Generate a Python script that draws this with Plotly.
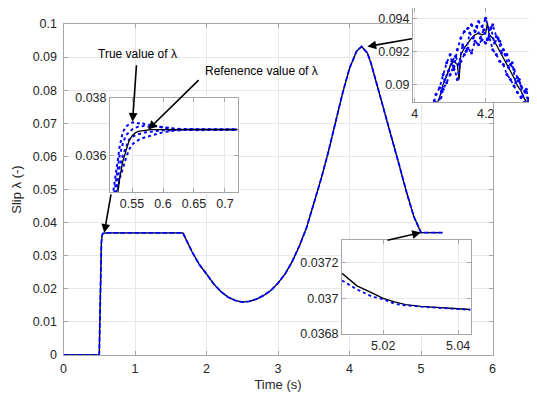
import plotly.graph_objects as go

OFF = 8                      # page body margin
W, H = 537 - OFF, 399 - OFF

# ---------------- main data ----------------
t_main = [0, 0.5, 0.51, 0.52, 0.53, 0.54, 0.55, 0.6, 1.0, 1.5, 1.67, 1.8, 1.9, 2.0, 2.1, 2.2, 2.3, 2.4,
          2.5, 2.6, 2.7, 2.8, 2.9, 3.0, 3.1, 3.2, 3.3, 3.4, 3.5, 3.6, 3.7, 3.8, 3.9, 4.0, 4.1, 4.17,
          4.25, 4.3, 4.4, 4.5, 4.6, 4.7, 4.8, 4.9, 5.0, 5.3]
lam_true = [0, 0, 0.012, 0.026, 0.034, 0.0362, 0.0367, 0.0369, 0.0369, 0.0369, 0.0369, 0.0311, 0.0273,
            0.0245, 0.0215, 0.0192, 0.0175, 0.0165, 0.0160, 0.0162, 0.0169, 0.0180, 0.0195, 0.0217,
            0.0245, 0.0283, 0.0330, 0.0385, 0.0455, 0.0530, 0.0610, 0.0700, 0.0788, 0.0866, 0.0918,
            0.0932, 0.0912, 0.0882, 0.0805, 0.0730, 0.0650, 0.0570, 0.0490, 0.0418, 0.0370, 0.0370]
lam_ref = lam_true

# ---------------- inset 1 (start-up) ----------------
t_in1 = [0.52, 0.525, 0.53, 0.535, 0.54, 0.545, 0.55, 0.555, 0.56, 0.565, 0.57, 0.58, 0.59, 0.6,
         0.61, 0.62, 0.64, 0.66, 0.68, 0.7, 0.72]
in1_true = [0.0335, 0.0344, 0.0352, 0.0358, 0.03618, 0.03650, 0.03668, 0.03678, 0.03684, 0.03686,
            0.03688, 0.03690, 0.03690, 0.03690, 0.03690, 0.03690, 0.03690, 0.03690, 0.03690,
            0.03690, 0.03690]
in1_est_a = [0.0348, 0.0356, 0.0363, 0.0368, 0.0370, 0.03708, 0.03714, 0.03716, 0.03711, 0.03715,
             0.03709, 0.03706, 0.03701, 0.03698, 0.03696, 0.03693, 0.03692, 0.03691, 0.03690,
             0.03690, 0.03690]
in1_est_b = [0.0345, 0.0353, 0.0360, 0.0364, 0.0367, 0.03680, 0.03690, 0.03696, 0.03700, 0.03701,
             0.03703, 0.03699, 0.03702, 0.03697, 0.03694, 0.03692, 0.03690, 0.03691, 0.03689,
             0.03690, 0.03690]
in1_est_c = [0.0338, 0.0346, 0.0352, 0.0356, 0.0359, 0.0362, 0.03638, 0.03648, 0.03655, 0.03659,
             0.03663, 0.03668, 0.03675, 0.03681, 0.03685, 0.03687, 0.03689, 0.03688, 0.03690,
             0.03689, 0.03690]
in1_est_d = [0.0341, 0.0349, 0.0356, 0.0360, 0.0363, 0.03655, 0.03665, 0.03670, 0.03674, 0.03677,
             0.03680, 0.03683, 0.03686, 0.03688, 0.03687, 0.03689, 0.03690, 0.03689, 0.03690,
             0.03690, 0.03690]

# ---------------- inset 2 (peak) ----------------
t_in2 = [4.05, 4.06, 4.07, 4.08, 4.09, 4.10, 4.11, 4.12, 4.125, 4.13, 4.14, 4.15, 4.16, 4.17, 4.18,
         4.19, 4.20, 4.205, 4.21, 4.22, 4.23, 4.24, 4.25, 4.26, 4.27, 4.28, 4.29, 4.30, 4.31, 4.32,
         4.33, 4.34]
in2_true = [0.0884, 0.0887, 0.0892, 0.0900, 0.0905, 0.0911, 0.0914, 0.0912, 0.0903, 0.0918, 0.0922,
            0.0925, 0.0928, 0.0930, 0.0931, 0.0930, 0.0931, 0.0937, 0.0930, 0.0928, 0.0924, 0.0920,
            0.0916, 0.0912, 0.0908, 0.0904, 0.0899, 0.0896, 0.0891, 0.0888, 0.0892, 0.0884]
t_in2b = [4.05, 4.06, 4.07, 4.08, 4.09, 4.10, 4.11, 4.12, 4.13, 4.14, 4.15, 4.16, 4.17, 4.18, 4.19,
          4.20, 4.21, 4.22, 4.23, 4.24, 4.25, 4.26, 4.27, 4.28, 4.29, 4.30, 4.31, 4.32, 4.33, 4.34]
in2_est_a = [0.0886, 0.0894, 0.0898, 0.0906, 0.0913, 0.0918, 0.0909, 0.0921, 0.0928, 0.0932, 0.0934,
             0.0936, 0.0932, 0.0938, 0.0935, 0.0940, 0.0933, 0.0936, 0.0929, 0.0926, 0.0921, 0.0918,
             0.0912, 0.0909, 0.0904, 0.0899, 0.0896, 0.0890, 0.0893, 0.0887]
in2_est_b = [0.0882, 0.0889, 0.0887, 0.0897, 0.0901, 0.0906, 0.0911, 0.0903, 0.0914, 0.0918, 0.0922,
             0.0919, 0.0926, 0.0924, 0.0927, 0.0925, 0.0929, 0.0921, 0.0918, 0.0914, 0.0912, 0.0906,
             0.0903, 0.0899, 0.0895, 0.0892, 0.0889, 0.0886, 0.0889, 0.0884]
t_in2c = [4.055, 4.065, 4.075, 4.085, 4.095, 4.105, 4.115, 4.125, 4.135, 4.145, 4.155, 4.165, 4.175,
          4.185, 4.195, 4.205, 4.215, 4.225, 4.235, 4.245, 4.255, 4.265, 4.275, 4.285, 4.295, 4.305,
          4.315, 4.325, 4.335]
in2_est_c = [0.0890, 0.0885, 0.0896, 0.0903, 0.0908, 0.0914, 0.0917, 0.0912, 0.0924, 0.0920, 0.0931,
             0.0928, 0.0935, 0.0928, 0.0933, 0.0927, 0.0934, 0.0925, 0.0928, 0.0919, 0.0918, 0.0910,
             0.0913, 0.0901, 0.0903, 0.0893, 0.0897, 0.0887, 0.0891]

# ---------------- inset 3 (end) ----------------
t_in3 = [5.009, 5.013, 5.017, 5.02, 5.023, 5.026, 5.03, 5.035, 5.04, 5.0433]
in3_true = [0.03714, 0.03707, 0.03703, 0.03700, 0.03698, 0.036965, 0.036955, 0.036947, 0.03694, 0.036937]
in3_ref = [0.03710, 0.03705, 0.03701, 0.036995, 0.03697, 0.03696, 0.036953, 0.036946, 0.03694, 0.036936]

BLUE = "#0000ff"
GRID = "#e8e8e8"
LINE = "#a6a6a6"
TXT = "#262626"
FONT = "Liberation Sans, Arial, sans-serif"

fig = go.Figure()

# main
fig.add_trace(go.Scatter(x=t_main, y=lam_true, mode="lines", line=dict(color="black", width=1.3)))
fig.add_trace(go.Scatter(x=t_main, y=lam_ref, mode="lines", line=dict(color=BLUE, width=1.8, dash="5px,2px")))

# inset 1
for ys in [in1_est_a, in1_est_b, in1_est_c, in1_est_d]:
    fig.add_trace(go.Scatter(x=t_in1, y=ys, mode="lines", xaxis="x2", yaxis="y2",
                             line=dict(color=BLUE, width=2, dash="dot")))
fig.add_trace(go.Scatter(x=t_in1, y=in1_true, mode="lines", xaxis="x2", yaxis="y2",
                         line=dict(color="black", width=1.3)))

# inset 2
fig.add_trace(go.Scatter(x=t_in2, y=in2_true, mode="lines", xaxis="x3", yaxis="y3",
                         line=dict(color="black", width=1.3)))
for tt, ys in [(t_in2b, in2_est_a), (t_in2b, in2_est_b), (t_in2c, in2_est_c)]:
    fig.add_trace(go.Scatter(x=tt, y=ys, mode="lines+markers", xaxis="x3", yaxis="y3",
                             marker=dict(color=BLUE, size=3),
                             line=dict(color=BLUE, width=1.8, dash="dot")))

# inset 3
fig.add_trace(go.Scatter(x=t_in3, y=in3_true, mode="lines", xaxis="x4", yaxis="y4",
                         line=dict(color="black", width=1.4)))
fig.add_trace(go.Scatter(x=t_in3, y=in3_ref, mode="lines", xaxis="x4", yaxis="y4",
                         line=dict(color=BLUE, width=1.8, dash="dot")))


def px(x):
    return (x - OFF) / W


def py(y):
    return (H - (y - OFF)) / H


def axis(domain, rng, dtick, anchor, tick0=None, **kw):
    d = dict(domain=domain, range=rng, dtick=dtick, anchor=anchor, showgrid=True, gridcolor=GRID,
             gridwidth=1, zeroline=False, showline=True, linecolor=LINE, linewidth=1, mirror="ticks",
             ticks="inside", ticklen=4, tickcolor=LINE, automargin=False,
             tickfont=dict(family=FONT, size=12.5, color=TXT))
    if tick0 is not None:
        d["tick0"] = tick0
    d.update(kw)
    return d


fig.update_layout(
    width=W, height=H, margin=dict(l=0, r=0, t=0, b=0),
    paper_bgcolor="white", plot_bgcolor="white", showlegend=False, template="none",
    xaxis=axis([px(63.5), px(492.5)], [0, 6], 1, "y", ticklabelstandoff=2,
               title=dict(text="Time (s)", font=dict(family=FONT, size=13, color=TXT), standoff=4)),
    yaxis=axis([py(355), py(24)], [0, 0.1], 0.01, "x", ticklabelstandoff=3,
               title=dict(text="Slip λ (-)", font=dict(family=FONT, size=13, color=TXT), standoff=8)),
    xaxis2=axis([px(110), px(238)], [0.5145, 0.721], 0.05, "y2", tick0=0.55),
    yaxis2=axis([py(192), py(97.7)], [0.03475, 0.038], 0.002, "x2", tick0=0.036),
    xaxis3=axis([px(413), 1.0], [3.995, 4.345], 0.2, "y3", tick0=4),
    yaxis3=axis([py(101.7), py(8.3)], [0.08895, 0.0946], 0.002, "x3", tick0=0.09),
    xaxis4=axis([px(342), px(470.5)], [5.009, 5.0433], 0.02, "y4", tick0=5.02),
    yaxis4=axis([py(334), py(239.5)], [0.0368, 0.03733], 0.0002, "x4", tick0=0.0368),
)

# arrows
arrow = dict(showarrow=True, arrowhead=2, arrowsize=1.1, arrowwidth=1.6, arrowcolor="black", text="")
peak_i = lam_true.index(max(lam_true))
fig.add_annotation(x=0.5509, y=0.03717, xref="x2", yref="y2", ax=4, ay=-58, **arrow)
fig.add_annotation(x=0.576, y=0.03690, xref="x2", yref="y2", ax=52, ay=-51, **arrow)
fig.add_annotation(x=0.57, y=lam_true[7], xref="x", yref="y", ax=7, ay=-40, **arrow)
fig.add_annotation(x=t_main[peak_i] + 0.08, y=lam_true[peak_i], xref="x", yref="y", ax=46, ay=-8, **arrow)
fig.add_annotation(x=t_main[-2], y=lam_true[-2], xref="x", yref="y", ax=-35, ay=8, **arrow)

txtfont = dict(family=FONT, size=12, color="black")
fig.add_annotation(x=px(137), y=py(54), xref="paper", yref="paper", text="True value of λ",
                   showarrow=False, font=txtfont, xanchor="center", yanchor="middle")
fig.add_annotation(x=px(203), y=py(71), xref="paper", yref="paper", text="Refenence value of λ",
                   showarrow=False, font=txtfont, xanchor="left", yanchor="middle")

fig.write_html("out.html")
